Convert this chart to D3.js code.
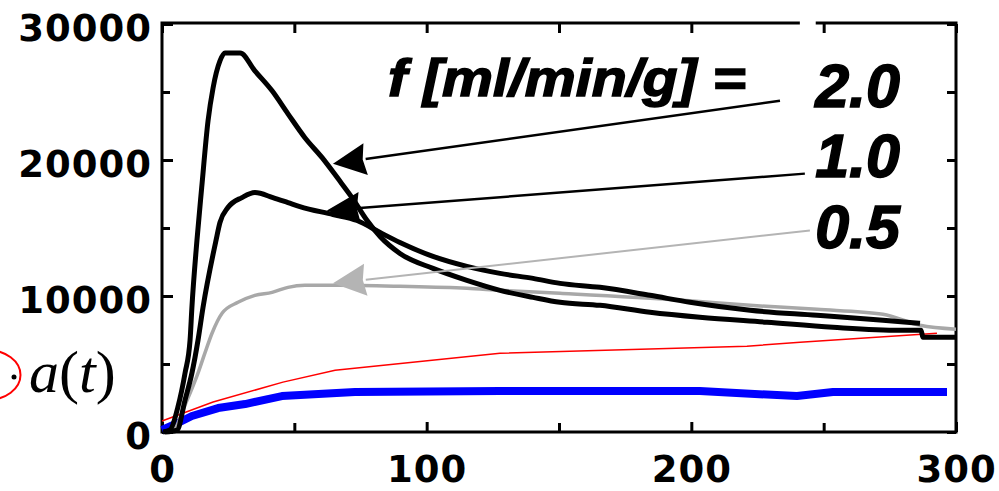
<!DOCTYPE html>
<html>
<head>
<meta charset="utf-8">
<script src="https://cdn.jsdelivr.net/npm/d3@7"></script>
<style>
  body { margin: 0; background: #fff; }
  svg { display: block; }
</style>
</head>
<body>
<div id="chart"></div>
<script>
// tick values
const tTicks = [0, 100, 200, 300];
const tMinor = [50, 150, 250];
const yTicks = [0, 10000, 20000, 30000];
const yMinor = [5000, 15000, 25000];

// flow labels (top to bottom)
const flowLabels = ["2.0", "1.0", "0.5"];

// tissue curves, [time, value]
const f20 = [[0.4,0],[3.0,147],[6.0,1834],[8.7,4328],[10.6,6748],[11.3,9169],[13.2,14083],[15.0,17971],
  [17.4,22885],[19.3,25306],[21.9,27286],[23.8,27873],[29.5,27873],[35.1,26553],[41.6,25085],[47.6,23395],
  [54.0,21638],[60.5,20171],[66.5,18631],[71.8,17237],[77.5,15550],[82.4,14377],[89.9,13130],[102.4,12029],
  [115.2,11149],[127.7,10416],[140.2,9902],[150.4,9536],[165.5,9315],[184.4,8802],[203.2,8435],[228.6,8069],
  [253.5,7702],[278.8,7482],[286.8,7482],[287.5,6968],[300,6968]];
const f10 = [[1.1,0],[5.7,147],[8.7,2347],[11.3,4328],[13.6,6748],[15.5,9169],[20.4,14083],[21.9,15403],
  [24.9,16504],[30.2,17237],[35.1,17604],[41.9,17237],[47.6,16871],[52.1,16577],[64.6,15990],[73.7,15550],
  [82.4,14670],[89.9,13937],[102.4,12910],[115.2,12176],[127.7,11663],[140.2,11296],[150.4,10929],
  [165.5,10636],[184.4,10049],[199.5,9536],[222.2,8949],[247.5,8582],[272.4,8215],[286.4,7995]];
const f05 = [[1.1,0],[4.9,293],[8.7,1980],[13.6,4328],[16.2,5795],[18.9,7262],[22.7,8729],[28.7,9536],
  [35.1,10049],[41.6,10269],[47.6,10636],[54.0,10782],[66.5,10782],[89.9,10709],[115.2,10562],[127.7,10416],
  [150.4,10196],[196.9,9682],[222.2,9315],[247.5,9022],[272.4,8655],[286.4,7848],[300,7555]];

// overlaid red and blue curves
const redCurve = [[0,807],[19.3,2201],[45.7,3668],[65.4,4548],[127.7,5795],[221.0,6308],[241.1,6602],[292.8,7262]];
const blueCurve = [[0,150],[6.0,660],[11.3,1174],[21.2,1760],[31.4,2054],[45.3,2641],[72.9,2934],[127.7,3007],
  [203.2,3007],[239.9,2641],[253.5,2934],[296.6,2934]];

// label arrows: tip and tail, [time, value]
const arrowTips = [[64.6,19731],[62.3,16284],[64.6,10929]];
const arrowTails = [[233.5,24352],[242.9,18998],[244.8,14817]];
const arrowColors = ["#000", "#000", "#b4b4b4"];

var width = 999, height = 491;

var svg = d3.select("#chart").append("svg")
  .attr("width", width)
  .attr("height", height);

var x = d3.scaleLinear().domain([0, 300]).range([162, 956]);
var y = d3.scaleLinear().domain([0, 30000]).range([432, 24]);

var line = d3.line()
  .x(function(d) { return x(d[0]); })
  .y(function(d) { return y(d[1]); });
var smooth = d3.line()
  .curve(d3.curveMonotoneX)
  .x(function(d) { return x(d[0]); })
  .y(function(d) { return y(d[1]); });

// ---- ticks (pointing inward) ----
function styleAxis(g) {
  g.select(".domain").remove();
  g.selectAll("line").attr("stroke", "#000").attr("stroke-width", 3);
  g.selectAll("text")
    .attr("fill", "#000")
    .attr("font-family", "DejaVu Sans")
    .attr("font-weight", "bold")
    .attr("font-size", 37)
    .attr("letter-spacing", 1);
}

svg.append("g")
  .attr("transform", "translate(0," + y(0) + ")")
  .call(d3.axisBottom(x).tickValues(tTicks).tickSize(-10).tickPadding(24).tickFormat(d3.format("d")))
  .call(styleAxis);
svg.append("g")
  .attr("transform", "translate(0," + y(0) + ")")
  .call(d3.axisBottom(x).tickValues(tMinor).tickSize(-9).tickFormat(""))
  .call(styleAxis);
svg.append("g")
  .attr("transform", "translate(0," + y(30000) + ")")
  .call(d3.axisTop(x).tickValues(tTicks.concat(tMinor)).tickSize(-9).tickFormat(""))
  .call(styleAxis);

var yAxis = svg.append("g")
  .attr("transform", "translate(" + x(0) + ",0)")
  .call(d3.axisLeft(y).tickValues(yTicks).tickSize(-11).tickPadding(10).tickFormat(d3.format("d")))
  .call(styleAxis);
yAxis.selectAll("text").attr("dy", "0.44em");
svg.append("g")
  .attr("transform", "translate(" + x(0) + ",0)")
  .call(d3.axisLeft(y).tickValues(yMinor).tickSize(-8).tickFormat(""))
  .call(styleAxis);
svg.append("g")
  .attr("transform", "translate(" + x(300) + ",0)")
  .call(d3.axisRight(y).tickValues(yTicks.concat(yMinor)).tickSize(-9).tickFormat(""))
  .call(styleAxis);

// ---- frame (top edge has a small gap) ----
var frame = svg.append("g").attr("stroke", "#000").attr("stroke-width", 3).attr("fill", "none");
frame.append("path").attr("d", "M" + x(241) + "," + (y(30000) - 1) + "H" + x(0) + "V" + y(0) + "H" + x(300));
frame.append("path").attr("d", "M" + x(247) + "," + (y(30000) - 1) + "H" + x(300) + "V" + (y(0) + 1.5));

// ---- curves ----
svg.append("path").datum(redCurve)
  .attr("fill", "none").attr("stroke", "#ff0000").attr("stroke-width", 1.5)
  .attr("d", line);
svg.append("path").datum(blueCurve)
  .attr("fill", "none").attr("stroke", "#0000ff").attr("stroke-width", 8)
  .attr("stroke-linejoin", "round")
  .attr("d", line);
svg.append("path").datum(f05)
  .attr("fill", "none").attr("stroke", "#a8a8a8").attr("stroke-width", 3.5)
  .attr("stroke-linejoin", "round")
  .attr("d", smooth);
svg.append("path").datum(f10)
  .attr("fill", "none").attr("stroke", "#000").attr("stroke-width", 5)
  .attr("stroke-linejoin", "round")
  .attr("d", smooth);
svg.append("path").datum(f20)
  .attr("fill", "none").attr("stroke", "#000").attr("stroke-width", 5)
  .attr("stroke-linejoin", "round")
  .attr("d", smooth);

// ---- arrows from labels to curves ----
arrowTips.forEach(function(tip, i) {
  var tx = x(tip[0]), ty = y(tip[1]);
  var sx = x(arrowTails[i][0]), sy = y(arrowTails[i][1]);
  var dx = sx - tx, dy = sy - ty, len = Math.sqrt(dx * dx + dy * dy);
  var ux = dx / len, uy = dy / len;
  var headLen = 33, headHalf = 16;
  var bx = tx + ux * headLen, by = ty + uy * headLen;
  svg.append("line")
    .attr("x1", bx).attr("y1", by).attr("x2", sx).attr("y2", sy)
    .attr("stroke", arrowColors[i]).attr("stroke-width", i === 2 ? 2 : 2.5);
  svg.append("path")
    .attr("d", "M" + tx + "," + ty +
      "L" + (bx - uy * headHalf) + "," + (by + ux * headHalf) +
      "L" + (bx + ux * -3) + "," + (by + uy * -3) +
      "L" + (bx + uy * headHalf) + "," + (by - ux * headHalf) + "Z")
    .attr("fill", arrowColors[i]);
});

// ---- legend text ----
svg.append("text")
  .attr("x", 388).attr("y", 96)
  .attr("font-family", "Liberation Sans").attr("font-weight", "bold").attr("font-style", "italic")
  .attr("font-size", 52)
  .attr("textLength", 358).attr("lengthAdjust", "spacingAndGlyphs")
  .attr("fill", "#000").attr("stroke", "#000").attr("stroke-width", 1.5)
  .text("f [ml/min/g] =");

var labelBaselines = [107, 177, 248];
svg.selectAll(".flow")
  .data(flowLabels)
  .enter().append("text")
  .attr("class", "flow")
  .attr("x", 900)
  .attr("y", function(d, i) { return labelBaselines[i]; })
  .attr("text-anchor", "end")
  .attr("font-family", "Liberation Sans").attr("font-weight", "bold").attr("font-style", "italic")
  .attr("font-size", 61)
  .attr("fill", "#000").attr("stroke", "#000").attr("stroke-width", 1.5)
  .text(function(d) { return d; });

// ---- a(t) annotation at left edge ----
svg.append("ellipse")
  .attr("cx", -13).attr("cy", 375).attr("rx", 33.5).attr("ry", 25)
  .attr("fill", "none").attr("stroke", "#ff0000").attr("stroke-width", 2);
svg.append("circle").attr("cx", 14).attr("cy", 377).attr("r", 2.5).attr("fill", "#000");
var at = svg.append("text")
  .attr("x", 29).attr("y", 392)
  .attr("font-family", "Liberation Serif").attr("font-size", 60).attr("fill", "#000");
at.append("tspan").attr("font-style", "italic").text("a");
at.append("tspan").text("(");
at.append("tspan").attr("font-style", "italic").text("t");
at.append("tspan").text(")");
</script>
</body>
</html>
